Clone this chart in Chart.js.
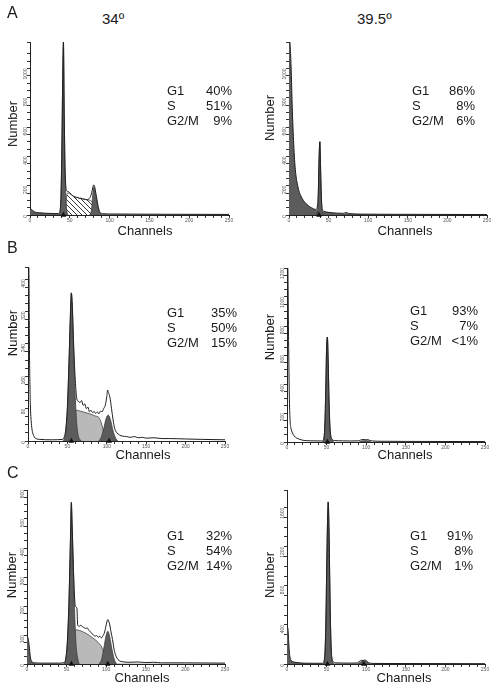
<!DOCTYPE html>
<html><head><meta charset="utf-8">
<script src="https://cdn.jsdelivr.net/npm/chart.js@4.4.0/dist/chart.umd.min.js"></script>
<style>
body{margin:0;background:#fff;font-family:"Liberation Sans",Arial,sans-serif;color:#1a1a1a}
#fig{position:relative;width:498px;height:690px;overflow:hidden}
canvas{position:absolute}
.t{position:absolute;white-space:nowrap;line-height:1}
.num{position:absolute;width:60px;height:16px;line-height:16px;text-align:center;font-size:13px;transform:rotate(-90deg)}
.ch{position:absolute;width:80px;text-align:center;font-size:13px;line-height:1}
.st{position:absolute;font-size:13px;line-height:15px}
.st div{display:flex;justify-content:space-between}
</style></head><body><div id="fig"></div>
<script>
// --- data: [channel, count] pairs ---
const phases = ['G1', 'S', 'G2/M'];
const temps = ['34º', '39.5º'];
const rows = ['A', 'B', 'C'];

// A, 34
const a34Total = [[0,40],[2,38],[4,28],[6,20],[8,17],[12,15],[20,12],[30,10],[36,10],[38,40],[39,150],[40,450],[41,900],[42,1180],[43,700],[44,330],[45,200],[46,165],[48,160],[50,150],[52,140],[54,128],[56,125],[58,118],[60,120],[62,112],[64,115],[66,110],[68,108],[70,106],[72,104],[74,110],[76,125],[78,165],[80,205],[81,200],[82,170],[84,110],[86,50],[88,18],[92,9],[100,7],[130,6],[170,5],[250,4]];
const a34Debris = [[0,40],[2,38],[4,28],[6,20],[8,17],[12,15],[20,12],[30,10],[40,8],[60,6],[100,5],[250,3]];
const a34G1 = [[37,0],[38,30],[39,130],[40,430],[41,880],[42,1180],[43,680],[44,300],[45,120],[46,40],[47,10],[48,0]];
const a34S = [[44,0],[45,60],[46,130],[47,150],[50,145],[55,128],[60,118],[65,112],[70,106],[75,100],[78,90],[80,70],[82,35],[84,0]];
const a34G2 = [[75,0],[77,30],[78,80],[79,150],[80,190],[81,185],[82,150],[84,90],[86,40],[88,12],[90,0]];
const a34Marks = [42];
const a34Pct = ['40%', '51%', '9%'];

// A, 39.5
const a39Total = [[0,1180],[1,1180],[2,1100],[3,950],[4,750],[5,600],[6,480],[7,380],[8,310],[9,260],[11,200],[13,155],[15,130],[18,100],[22,75],[26,57],[30,45],[33,38],[35,40],[36,70],[37,160],[38,400],[39,500],[40,300],[41,110],[42,40],[44,25],[50,18],[60,13],[68,11],[70,14],[72,17],[74,14],[77,9],[90,6],[120,5],[250,3]];
const a39Debris = [[0,1180],[1,1180],[2,1100],[3,950],[4,750],[5,600],[6,480],[7,380],[8,310],[9,260],[11,200],[13,155],[15,130],[18,100],[22,75],[26,57],[30,45],[35,32],[40,25],[50,18],[60,12],[80,8],[100,5],[250,3]];
const a39G1 = [[35,0],[36,30],[37,120],[38,380],[39,500],[40,290],[41,90],[42,20],[43,0]];
const a39S = [];
const a39G2 = [[68,0],[70,5],[72,10],[74,6],[76,0]];
const a39Marks = [38];
const a39Pct = ['86%', '8%', '6%'];

// B, 34
const b34Total = [[0,430],[1,430],[2,200],[3,90],[4,50],[5,30],[6,20],[8,10],[10,6],[15,4],[30,3],[44,4],[46,10],[48,30],[50,85],[52,195],[54,325],[55,366],[56,345],[58,235],[60,150],[62,104],[64,98],[66,95],[68,100],[70,88],[72,92],[74,80],[76,84],[78,72],[80,76],[82,70],[84,73],[86,68],[88,72],[90,67],[92,74],[94,72],[96,80],[98,88],[100,110],[101,126],[102,120],[104,108],[106,80],[108,52],[110,31],[113,20],[116,15],[120,12],[125,11],[130,9],[135,11],[140,8],[145,9],[150,7],[160,8],[170,6],[180,6],[200,5],[220,4],[250,3]];
const b34Debris = [];
const b34G1 = [[44,0],[46,5],[48,25],[50,80],[52,190],[54,320],[55,366],[56,340],[58,220],[60,110],[62,40],[64,12],[66,3],[68,0]];
const b34S = [[48,0],[50,20],[52,45],[54,62],[56,72],[58,76],[62,76],[66,74],[70,72],[75,69],[80,66],[85,62],[90,58],[93,45],[95,30],[97,12],[99,0]];
const b34G2 = [[90,0],[93,10],[96,30],[99,55],[102,64],[105,50],[108,25],[111,8],[114,0]];
const b34Marks = [55, 103];
const b34Pct = ['35%', '50%', '15%'];

// B, 39.5
const b39Total = [[0,1200],[1,1200],[2,700],[3,300],[4,140],[5,95],[7,62],[9,42],[12,28],[16,18],[20,12],[30,8],[44,7],[46,12],[47,45],[48,155],[49,385],[50,655],[51,724],[52,565],[53,305],[54,135],[55,55],[57,18],[60,10],[70,8],[80,7],[90,8],[93,14],[96,17],[99,16],[102,16],[105,10],[108,7],[120,5],[150,4],[250,3]];
const b39Debris = [];
const b39G1 = [[45,0],[47,40],[48,150],[49,380],[50,650],[51,724],[52,560],[53,300],[54,130],[55,50],[57,15],[59,0]];
const b39S = [];
const b39G2 = [[91,0],[94,7],[97,9],[100,9],[103,7],[106,0]];
const b39Marks = [51];
const b39Pct = ['93%', '7%', '<1%'];

// C, 34
const c34Total = [[0,95],[1,92],[2,80],[3,55],[4,30],[5,15],[7,6],[10,4],[20,3],[40,3],[47,5],[49,20],[51,80],[53,220],[55,450],[56,557],[57,480],[59,300],[61,200],[63,193],[64,135],[66,130],[68,134],[70,128],[72,126],[74,122],[76,125],[78,116],[80,112],[82,104],[84,100],[86,96],[88,98],[90,92],[92,96],[94,90],[96,98],[98,110],[100,135],[102,153],[103,148],[104,141],[106,112],[108,84],[110,50],[112,30],[115,15],[120,8],[130,6],[140,7],[150,5],[160,6],[170,4],[200,4],[250,3]];
const c34Debris = [[0,95],[1,92],[2,80],[3,55],[4,30],[5,15],[7,6],[10,3],[20,2],[250,1]];
const c34G1 = [[47,0],[49,18],[51,75],[53,210],[55,440],[56,557],[57,470],[58,380],[59,280],[60,190],[61,120],[62,65],[64,20],[66,0]];
const c34S = [[50,0],[52,20],[54,50],[56,80],[58,100],[60,112],[62,118],[66,116],[70,112],[75,105],[80,96],[85,86],[90,74],[94,60],[97,40],[100,15],[102,0]];
const c34G2 = [[91,0],[94,15],[97,55],[100,100],[102,113],[104,100],[107,55],[110,18],[113,0]];
const c34Marks = [56, 102];
const c34Pct = ['32%', '54%', '14%'];

// C, 39.5
const c39Total = [[0,370],[1,370],[2,250],[3,120],[4,60],[5,40],[7,25],[10,18],[15,12],[25,8],[45,7],[46,10],[47,40],[48,130],[49,410],[50,910],[51,1400],[52,1658],[53,1400],[54,860],[55,390],[56,130],[57,50],[59,20],[62,12],[70,10],[80,9],[88,10],[90,18],[92,30],[94,38],[96,36],[98,40],[100,35],[102,20],[104,10],[110,6],[130,5],[250,3]];
const c39Debris = [[0,370],[1,370],[2,250],[3,120],[4,60],[5,40],[7,25],[10,18],[15,12],[25,8],[45,6],[100,4],[250,2]];
const c39G1 = [[46,0],[47,30],[48,120],[49,400],[50,900],[51,1400],[52,1658],[53,1400],[54,850],[55,380],[56,120],[57,40],[59,0]];
const c39S = [];
const c39G2 = [[89,0],[92,15],[95,30],[98,33],[101,20],[104,0]];
const c39Marks = [51, 97];
const c39Pct = ['91%', '8%', '1%'];

// --- layout ---
const DARK = '#5c5c5c', LIGHT = '#b9b9b9', NONE = 'rgba(0,0,0,0)';
function hatch() {
  const c = document.createElement('canvas');
  c.width = 5; c.height = 5;
  const g = c.getContext('2d');
  g.fillStyle = '#fff'; g.fillRect(0, 0, 5, 5);
  g.strokeStyle = '#222'; g.lineWidth = 0.9;
  g.beginPath();
  g.moveTo(-1, -1); g.lineTo(6, 6);
  g.moveTo(-1, 4); g.lineTo(1, 6);
  g.moveTo(4, -1); g.lineTo(6, 1);
  g.stroke();
  return document.createElement('canvas').getContext('2d').createPattern(c, 'repeat');
}

const panels = [
  { g:{ax:30,bx:229,top:42,base:215}, yMax:1180, yStep:50, yLab:200, total:a34Total, debris:a34Debris, g1:a34G1, s:a34S, g2:a34G2, marks:a34Marks, pct:a34Pct, dFill:DARK, sFill:hatch(),
    st:{x:167,y:83,w:65}, num:[13,124], chx:145, chy:226 },
  { g:{ax:289,bx:487,top:42,base:215}, yMax:1180, yStep:50, yLab:200, total:a39Total, debris:a39Debris, g1:a39G1, s:a39S, g2:a39G2, marks:a39Marks, pct:a39Pct, dFill:DARK, sFill:LIGHT,
    st:{x:412,y:83,w:63}, num:[270,118], chx:405, chy:226 },
  { g:{ax:28,bx:225,top:267,base:441}, yMax:430, yStep:20, yLab:80, total:b34Total, debris:b34Debris, g1:b34G1, s:b34S, g2:b34G2, marks:b34Marks, pct:b34Pct, dFill:NONE, sFill:LIGHT,
    st:{x:167,y:305,w:70}, num:[13,333], chx:143, chy:450 },
  { g:{ax:287,bx:485,top:268,base:442}, yMax:1200, yStep:50, yLab:200, total:b39Total, debris:b39Debris, g1:b39G1, s:b39S, g2:b39G2, marks:b39Marks, pct:b39Pct, dFill:NONE, sFill:LIGHT,
    st:{x:410,y:303,w:68}, num:[270,337], chx:405, chy:450 },
  { g:{ax:27,bx:225,top:490,base:664}, yMax:600, yStep:25, yLab:100, total:c34Total, debris:c34Debris, g1:c34G1, s:c34S, g2:c34G2, marks:c34Marks, pct:c34Pct, dFill:DARK, sFill:LIGHT,
    st:{x:167,y:528,w:65}, num:[12,575], chx:142, chy:673 },
  { g:{ax:287,bx:485,top:490,base:664}, yMax:1780, yStep:100, yLab:400, total:c39Total, debris:c39Debris, g1:c39G1, s:c39S, g2:c39G2, marks:c39Marks, pct:c39Pct, dFill:DARK, sFill:LIGHT,
    st:{x:410,y:528,w:63}, num:[270,575], chx:404, chy:673 }
];

const fig = document.getElementById('fig');
function addText(cls, html, x, y, size) {
  const d = document.createElement('div');
  d.className = cls; d.innerHTML = html;
  d.style.left = x + 'px'; d.style.top = y + 'px';
  if (size) d.style.fontSize = size + 'px';
  fig.append(d);
  return d;
}

const PL = 26, PT = 10, PR = 10, PB = 12;
function area(data, color) {
  return { data, fill:'origin', backgroundColor:color, borderColor:'#333', borderWidth:0.7,
    pointRadius:0, cubicInterpolationMode:'monotone' };
}

panels.forEach(p => {
  const c = document.createElement('canvas');
  const w = p.g.bx - p.g.ax + PL + PR, h = p.g.base - p.g.top + PT + PB;
  c.width = w; c.height = h;
  c.style.left = (p.g.ax - PL) + 'px'; c.style.top = (p.g.top - PT) + 'px';
  fig.append(c);
  new Chart(c, {
    type: 'line',
    data: { datasets: [
      { type:'scatter', data:p.marks.map(m => [m, 0]), pointStyle:'triangle', pointRadius:3.3,
        backgroundColor:'#111', borderWidth:0, clip:false },
      { data:p.total, fill:false, borderColor:'#1e1e1e', borderWidth:1, pointRadius:0, cubicInterpolationMode:'monotone' },
      area(p.g2, DARK),
      area(p.g1, DARK),
      area(p.s, p.sFill),
      Object.assign(area(p.debris, p.dFill), { borderWidth:0 })
    ]},
    options: {
      responsive:false, animation:false, events:[],
      layout:{ padding:{ left:0, top:PT, right:PR, bottom:0 } },
      plugins:{ legend:{display:false}, tooltip:{enabled:false} },
      scales: {
        x: { type:'linear', min:0, max:250,
          ticks:{ stepSize:10, autoSkip:false, maxRotation:0, padding:0, color:'#555', font:{size:5},
            callback: v => v % 50 === 0 ? v : '' },
          grid:{ drawOnChartArea:false, tickLength:3, color:'#333' },
          border:{ color:'#222' },
          afterFit: s => { s.height = PB; } },
        y: { min:0, max:p.yMax,
          ticks:{ stepSize:p.yStep, autoSkip:false, minRotation:90, maxRotation:90, padding:1, color:'#555', font:{size:5},
            callback: v => v % p.yLab === 0 ? v : '' },
          grid:{ drawOnChartArea:false, tickLength:3, color:'#333' },
          border:{ color:'#222' },
          afterFit: s => { s.width = PL; } }
      }
    }
  });
  const st = addText('st', phases.map((ph, i) => `<div><span>${ph}</span><span>${p.pct[i]}</span></div>`).join(''), p.st.x, p.st.y);
  st.style.width = p.st.w + 'px';
  addText('num', 'Number', p.num[0] - 30, p.num[1] - 8);
  addText('ch', 'Channels', p.chx - 40, p.chy - 2);
});

addText('t', rows[0], 7, 5, 16);
addText('t', rows[1], 7, 240, 16);
addText('t', rows[2], 7, 465, 16);
addText('t', temps[0], 102, 11, 15);
addText('t', temps[1], 357, 11, 15);
</script>
</body></html>
